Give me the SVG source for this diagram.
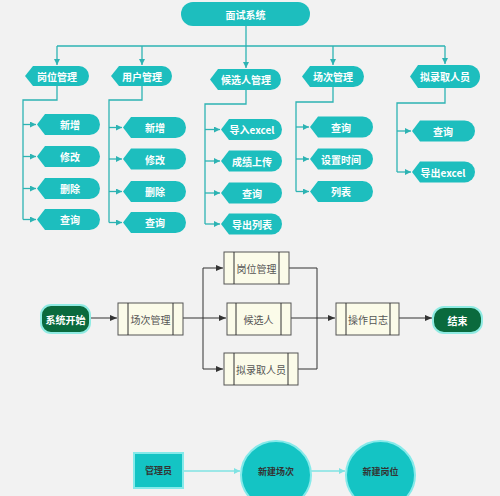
<svg xmlns="http://www.w3.org/2000/svg" width="500" height="496" viewBox="0 0 500 496">
<defs>
<marker id="at" viewBox="0 0 6 6" refX="6" refY="3" markerWidth="6" markerHeight="6" markerUnits="userSpaceOnUse" orient="auto"><path d="M0,0 L6,3 L0,6 Z" fill="#2DB3B3"/></marker>
<marker id="ak" viewBox="0 0 7 6" refX="7" refY="3" markerWidth="7" markerHeight="6" markerUnits="userSpaceOnUse" orient="auto"><path d="M0,0 L7,3 L0,6 Z" fill="#333"/></marker>
<marker id="ac" viewBox="0 0 6 6" refX="6" refY="3" markerWidth="6" markerHeight="6" markerUnits="userSpaceOnUse" orient="auto"><path d="M0,0 L6,3 L0,6 Z" fill="#7FE3E3"/></marker>
</defs>
<style>
text{font-family:"Noto Sans CJK SC","Noto Sans",sans-serif;text-anchor:middle;dominant-baseline:central}
.t{fill:#1DBEBE}
.tw{fill:#fff;font-size:10px;font-weight:bold}
.tc{fill:none;stroke:#2DB3B3;stroke-width:1.3}
.p{fill:#FBFBE9;stroke:#555;stroke-width:1}
.pt{fill:#555;font-size:10px}
.k{fill:none;stroke:#333;stroke-width:1}
.g{fill:#0A6A3D;stroke:#8FEBE3;stroke-width:2}
.c{fill:#14C4C4;stroke:#85EAEA;stroke-width:2}
.cl{fill:none;stroke:#7FE3E3;stroke-width:1.3}
.td{fill:#333;font-size:9px;font-weight:bold}
</style>
<rect width="500" height="496" fill="#F2F2F2"/>
<g id="connectors">
<path class="tc" d="M246,26 V68" marker-end="url(#at)"/>
<path class="tc" d="M57,46 H445"/>
<path class="tc" d="M57,46 V65" marker-end="url(#at)"/>
<path class="tc" d="M142,46 V65" marker-end="url(#at)"/>
<path class="tc" d="M333,46 V65" marker-end="url(#at)"/>
<path class="tc" d="M445,46 V64" marker-end="url(#at)"/>
<path class="tc" d="M57,86 V100 H23 V219.5"/>
<path class="tc" d="M23,124.5 H36" marker-end="url(#at)"/>
<path class="tc" d="M23,156.5 H36" marker-end="url(#at)"/>
<path class="tc" d="M23,188.5 H36" marker-end="url(#at)"/>
<path class="tc" d="M23,219.5 H36" marker-end="url(#at)"/>
<path class="tc" d="M142,86 V100 H109 V222.5"/>
<path class="tc" d="M109,127.5 H122" marker-end="url(#at)"/>
<path class="tc" d="M109,159 H122" marker-end="url(#at)"/>
<path class="tc" d="M109,191.5 H122" marker-end="url(#at)"/>
<path class="tc" d="M109,222.5 H122" marker-end="url(#at)"/>
<path class="tc" d="M246,90 V104 H205 V224"/>
<path class="tc" d="M205,129.5 H220" marker-end="url(#at)"/>
<path class="tc" d="M205,161 H220" marker-end="url(#at)"/>
<path class="tc" d="M205,193 H220" marker-end="url(#at)"/>
<path class="tc" d="M205,224 H220" marker-end="url(#at)"/>
<path class="tc" d="M333,87 V102 H296 V191.5"/>
<path class="tc" d="M296,127 H309" marker-end="url(#at)"/>
<path class="tc" d="M296,159 H309" marker-end="url(#at)"/>
<path class="tc" d="M296,191.5 H309" marker-end="url(#at)"/>
<path class="tc" d="M445,88 V103 H397 V172"/>
<path class="tc" d="M397,131 H411" marker-end="url(#at)"/>
<path class="tc" d="M397,172 H411" marker-end="url(#at)"/>
<path class="k" d="M90,318 H117" marker-end="url(#ak)"/>
<path class="k" d="M183,318 H226" marker-end="url(#ak)"/>
<path class="k" d="M203,268 V369"/>
<path class="k" d="M203,268 H223" marker-end="url(#ak)"/>
<path class="k" d="M203,369 H223" marker-end="url(#ak)"/>
<path class="k" d="M289,268 H317 V369 H298"/>
<path class="k" d="M291,318 H335" marker-end="url(#ak)"/>
<path class="k" d="M399,318 H432" marker-end="url(#ak)"/>
<path class="cl" d="M183,471 H240" marker-end="url(#ac)"/>
<path class="cl" d="M311,471 H345" marker-end="url(#ac)"/>
</g>
<g id="root"><rect class="t" x="181" y="2" width="129" height="24" rx="12"/><text class="tw" x="245.5" y="14">面试系统</text></g>
<g id="cat1"><path class="t" d="M25,76 L33,66 L79,66 A10,10 0 0 1 79,86 L33,86 Z"/><text class="tw" x="57" y="76">岗位管理</text></g>
<g id="cat2"><path class="t" d="M111,76 L119,66 L162,66 A10,10 0 0 1 162,86 L119,86 Z"/><text class="tw" x="142" y="76">用户管理</text></g>
<g id="cat3"><path class="t" d="M210,79.5 L218,69 L270.5,69 A10.5,10.5 0 0 1 270.5,90 L218,90 Z"/><text class="tw" x="246" y="79.5">候选人管理</text></g>
<g id="cat4"><path class="t" d="M302,76.5 L310,66 L353.5,66 A10.5,10.5 0 0 1 353.5,87 L310,87 Z"/><text class="tw" x="333" y="76.5">场次管理</text></g>
<g id="cat5"><path class="t" d="M410,76.5 L418,65 L468.5,65 A11.5,11.5 0 0 1 468.5,88 L418,88 Z"/><text class="tw" x="445" y="76.5">拟录取人员</text></g>
<g id="c1a"><path class="t" d="M37,124.5 L45,114 L89.5,114 A10.5,10.5 0 0 1 89.5,135 L45,135 Z"/><text class="tw" x="70" y="124.5">新增</text></g>
<g id="c1b"><path class="t" d="M37,156.5 L45,146 L89.5,146 A10.5,10.5 0 0 1 89.5,167 L45,167 Z"/><text class="tw" x="70" y="156.5">修改</text></g>
<g id="c1c"><path class="t" d="M37,188.5 L45,178 L89.5,178 A10.5,10.5 0 0 1 89.5,199 L45,199 Z"/><text class="tw" x="70" y="188.5">删除</text></g>
<g id="c1d"><path class="t" d="M37,219.5 L45,209 L89.5,209 A10.5,10.5 0 0 1 89.5,230 L45,230 Z"/><text class="tw" x="70" y="219.5">查询</text></g>
<g id="c2a"><path class="t" d="M123,127.5 L131,117 L175.5,117 A10.5,10.5 0 0 1 175.5,138 L131,138 Z"/><text class="tw" x="155" y="127.5">新增</text></g>
<g id="c2b"><path class="t" d="M123,159 L131,148.5 L175.5,148.5 A10.5,10.5 0 0 1 175.5,169.5 L131,169.5 Z"/><text class="tw" x="155" y="159">修改</text></g>
<g id="c2c"><path class="t" d="M123,191.5 L131,181 L175.5,181 A10.5,10.5 0 0 1 175.5,202 L131,202 Z"/><text class="tw" x="155" y="191.5">删除</text></g>
<g id="c2d"><path class="t" d="M123,222.5 L131,212 L175.5,212 A10.5,10.5 0 0 1 175.5,233 L131,233 Z"/><text class="tw" x="155" y="222.5">查询</text></g>
<g id="c3a"><path class="t" d="M221,129.5 L229,119 L271.5,119 A10.5,10.5 0 0 1 271.5,140 L229,140 Z"/><text class="tw" x="252" y="129.5">导入excel</text></g>
<g id="c3b"><path class="t" d="M221,161 L229,150.5 L271.5,150.5 A10.5,10.5 0 0 1 271.5,171.5 L229,171.5 Z"/><text class="tw" x="252" y="161">成绩上传</text></g>
<g id="c3c"><path class="t" d="M221,193 L229,182.5 L271.5,182.5 A10.5,10.5 0 0 1 271.5,203.5 L229,203.5 Z"/><text class="tw" x="252" y="193">查询</text></g>
<g id="c3d"><path class="t" d="M221,224 L229,213.5 L271.5,213.5 A10.5,10.5 0 0 1 271.5,234.5 L229,234.5 Z"/><text class="tw" x="252" y="224">导出列表</text></g>
<g id="c4a"><path class="t" d="M310,127 L318,116.5 L362.5,116.5 A10.5,10.5 0 0 1 362.5,137.5 L318,137.5 Z"/><text class="tw" x="341" y="127">查询</text></g>
<g id="c4b"><path class="t" d="M310,159 L318,148.5 L362.5,148.5 A10.5,10.5 0 0 1 362.5,169.5 L318,169.5 Z"/><text class="tw" x="341" y="159">设置时间</text></g>
<g id="c4c"><path class="t" d="M310,191.5 L318,181 L362.5,181 A10.5,10.5 0 0 1 362.5,202 L318,202 Z"/><text class="tw" x="341" y="191.5">列表</text></g>
<g id="c5a"><path class="t" d="M412,131 L420,120.5 L464.5,120.5 A10.5,10.5 0 0 1 464.5,141.5 L420,141.5 Z"/><text class="tw" x="443" y="131">查询</text></g>
<g id="c5b"><path class="t" d="M412,172 L420,161.5 L464.5,161.5 A10.5,10.5 0 0 1 464.5,182.5 L420,182.5 Z"/><text class="tw" x="443" y="172">导出excel</text></g>
<g id="start"><rect class="g" x="41" y="305" width="49" height="28" rx="10"/><text class="tw" x="65.5" y="319">系统开始</text></g>
<g id="f1"><rect class="p" x="118" y="303" width="65" height="32"/><path class="k" d="M128,303 V335 M173,303 V335"/><text class="pt" x="150.5" y="319">场次管理</text></g>
<g id="f2"><rect class="p" x="224" y="252" width="65" height="32"/><path class="k" d="M234,252 V284 M279,252 V284"/><text class="pt" x="256.5" y="268">岗位管理</text></g>
<g id="f3"><rect class="p" x="227" y="303" width="64" height="32"/><path class="k" d="M236,303 V335 M281,303 V335"/><text class="pt" x="258.5" y="319">候选人</text></g>
<g id="f4"><rect class="p" x="224" y="353" width="74" height="32"/><path class="k" d="M234,353 V385 M288,353 V385"/><text class="pt" x="261" y="369">拟录取人员</text></g>
<g id="f5"><rect class="p" x="336" y="303" width="63" height="32"/><path class="k" d="M346,303 V335 M390,303 V335"/><text class="pt" x="368" y="319">操作日志</text></g>
<g id="end"><rect class="g" x="433" y="307" width="49" height="26" rx="11"/><text class="tw" x="457.5" y="320">结束</text></g>
<g id="admin"><rect class="c" x="134" y="453" width="49" height="35"/><text class="td" x="158.5" y="470.5">管理员</text></g>
<g id="newses"><ellipse class="c" cx="276" cy="475" rx="35" ry="34"/><text class="td" x="276" y="471">新建场次</text></g>
<g id="newpos"><ellipse class="c" cx="380.5" cy="475" rx="34.5" ry="34"/><text class="td" x="380.5" y="471">新建岗位</text></g>
</svg>
